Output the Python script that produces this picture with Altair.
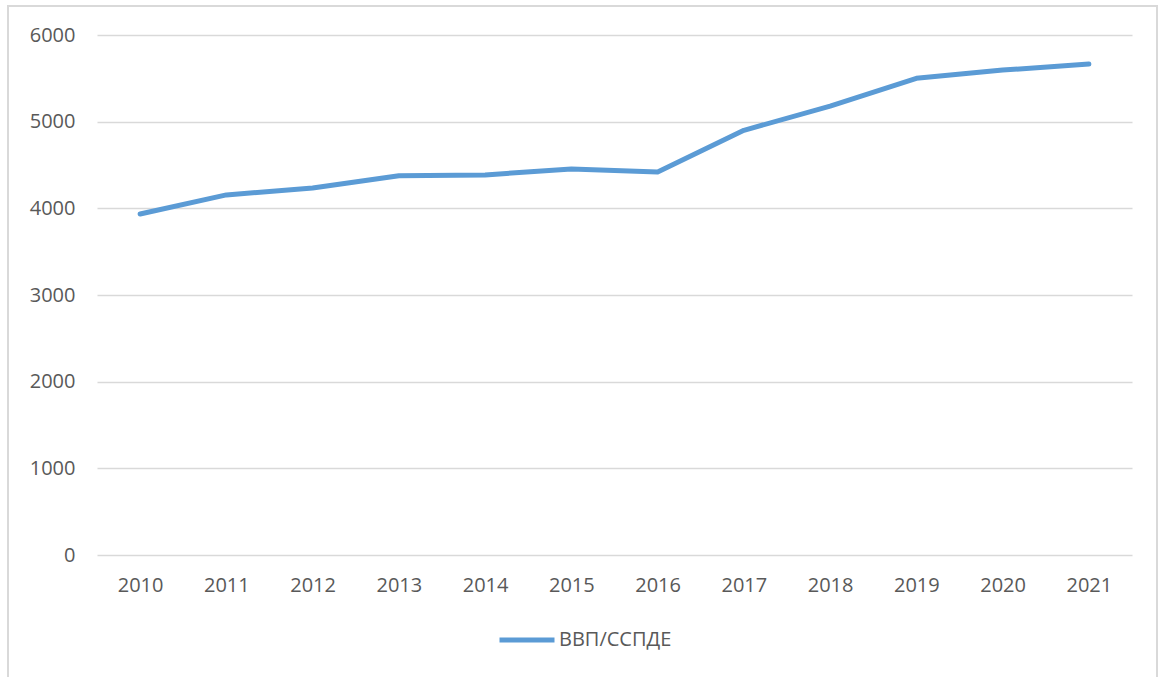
import altair as alt
import pandas as pd

years = ["2010", "2011", "2012", "2013", "2014", "2015", "2016", "2017", "2018", "2019", "2020", "2021"]
values = [3935, 4155, 4235, 4375, 4385, 4455, 4420, 4900, 5180, 5500, 5595, 5665]
series = "ВВП/ССПДЕ"

df = pd.DataFrame({"year": years, "value": values, "series": [series] * len(years)})

FONT = "Open Sans"
GREY = "#595959"
FS = 20

line = alt.Chart(df).mark_line(strokeWidth=5, strokeCap="round", strokeJoin="round").encode(
    x=alt.X("year:O", sort=years, scale=alt.Scale(type="point", padding=0.5),
            axis=alt.Axis(title=None, labelAngle=0, domain=False, ticks=False, grid=False,
                          labelPadding=20, labelFontSize=FS, labelColor=GREY, labelFont=FONT)),
    y=alt.Y("value:Q", scale=alt.Scale(domain=[0, 6000], nice=False),
            axis=alt.Axis(title=None, values=[0, 1000, 2000, 3000, 4000, 5000, 6000], format="d",
                          domain=False, ticks=False, grid=True, gridColor="#d9d9d9", gridWidth=1.5,
                          labelPadding=22, labelFontSize=FS, labelColor=GREY, labelFont=FONT)),
    color=alt.Color("series:N", scale=alt.Scale(range=["#5B9BD5"]),
                    legend=alt.Legend(title=None, orient="none", legendX=400, legendY=575,
                                      symbolType="stroke", symbolSize=3025, symbolStrokeWidth=5,
                                      labelFontSize=FS, labelColor=GREY, labelFont=FONT,
                                      labelOffset=2)),
)

frame = alt.Chart(df).mark_rect(fill=None, stroke="#d9d9d9", strokeWidth=1.5).encode(
    x=alt.value(-89), x2=alt.value(1060), y=alt.value(-29), y2=alt.value(700)
)

chart = alt.layer(frame, line).properties(
    width=1035, height=520,
    autosize=alt.AutoSizeParams(type="none"),
    padding={"left": 97, "top": 35, "right": 32, "bottom": 122},
).configure(background="white").configure_view(stroke=None)

chart.save("out.html", embed_options={"renderer": "svg", "actions": False})
